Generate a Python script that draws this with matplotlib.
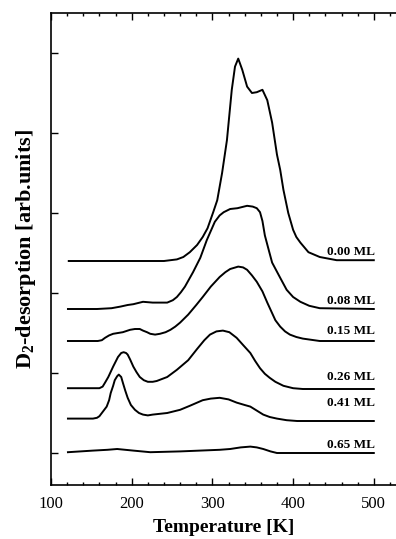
import matplotlib
matplotlib.use("Agg")
import matplotlib.pyplot as plt
from matplotlib.ticker import MultipleLocator

# coverages (monolayers), top curve first
coverages = ["0.00 ML", "0.08 ML", "0.15 ML", "0.26 ML", "0.41 ML", "0.65 ML"]

T_000 = [122, 240, 256, 264, 272, 281, 288, 294, 301, 306, 312, 318, 324, 328,
         332, 337, 343, 349, 355, 362, 368, 374, 380, 384, 388, 394, 400, 404,
         409, 419, 433, 454, 500]
S_000 = [2.80, 2.80, 2.82, 2.85, 2.91, 3.00, 3.10, 3.21, 3.41, 3.56, 3.90, 4.31,
         4.94, 5.23, 5.33, 5.19, 4.98, 4.90, 4.91, 4.94, 4.81, 4.53, 4.13, 3.94,
         3.69, 3.40, 3.19, 3.10, 3.03, 2.91, 2.85, 2.81, 2.81]

T_008 = [121, 157, 175, 186, 195, 202, 214, 226, 244, 251, 256, 261, 266, 276,
         285, 293, 303, 309, 314, 322, 331, 343, 350, 355, 359, 362, 365, 370,
         374, 384, 392, 400, 409, 420, 433, 500]
S_008 = [2.20, 2.20, 2.21, 2.23, 2.25, 2.26, 2.29, 2.28, 2.28, 2.31, 2.35, 2.41,
         2.48, 2.66, 2.84, 3.06, 3.29, 3.37, 3.41, 3.45, 3.46, 3.49, 3.48, 3.46,
         3.41, 3.30, 3.12, 2.93, 2.78, 2.59, 2.44, 2.35, 2.29, 2.24, 2.21, 2.20]

T_015 = [121, 158, 163, 167, 172, 177, 189, 198, 204, 210, 214, 219, 223, 229,
         235, 242, 248, 254, 260, 270, 280, 288, 298, 309, 316, 322, 332, 338,
         343, 349, 355, 362, 368, 378, 384, 390, 396, 404, 412, 433, 500]
S_015 = [1.80, 1.80, 1.81, 1.84, 1.87, 1.89, 1.91, 1.94, 1.95, 1.95, 1.93, 1.91,
         1.89, 1.88, 1.89, 1.91, 1.94, 1.98, 2.03, 2.13, 2.25, 2.35, 2.48, 2.60,
         2.66, 2.70, 2.73, 2.72, 2.69, 2.62, 2.54, 2.42, 2.28, 2.06, 1.98, 1.92,
         1.88, 1.85, 1.83, 1.80, 1.80]

T_026 = [121, 160, 164, 167, 171, 177, 183, 187, 190, 193, 195, 198, 202, 206,
         210, 215, 220, 226, 231, 244, 256, 270, 281, 290, 297, 305, 313, 321,
         330, 338, 347, 353, 359, 365, 371, 378, 388, 400, 412, 500]
S_026 = [1.21, 1.21, 1.23, 1.28, 1.35, 1.48, 1.60, 1.65, 1.66, 1.65, 1.63, 1.57,
         1.48, 1.41, 1.35, 1.31, 1.29, 1.29, 1.30, 1.35, 1.44, 1.56, 1.70, 1.81,
         1.88, 1.92, 1.93, 1.91, 1.84, 1.75, 1.65, 1.55, 1.46, 1.39, 1.34, 1.29,
         1.24, 1.21, 1.20, 1.20]

T_041 = [121, 152, 157, 160, 163, 166, 169, 172, 174, 177, 179, 182, 184, 187,
         189, 192, 195, 199, 204, 209, 214, 220, 226, 244, 260, 272, 288, 298,
         309, 320, 330, 340, 347, 355, 363, 371, 380, 392, 405, 500]
S_041 = [0.83, 0.83, 0.84, 0.86, 0.90, 0.94, 0.98, 1.06, 1.15, 1.24, 1.31, 1.36,
         1.38, 1.35, 1.28, 1.18, 1.09, 1.00, 0.94, 0.90, 0.88, 0.87, 0.88, 0.90,
         0.94, 0.99, 1.06, 1.08, 1.09, 1.07, 1.03, 1.00, 0.98, 0.93, 0.88, 0.85,
         0.83, 0.81, 0.80, 0.80]

T_065 = [121, 152, 170, 182, 192, 202, 223, 260, 309, 322, 335, 347, 355, 363,
         372, 380, 420, 500]
S_065 = [0.41, 0.43, 0.44, 0.45, 0.44, 0.43, 0.41, 0.42, 0.44, 0.45, 0.47, 0.48,
         0.47, 0.45, 0.42, 0.40, 0.40, 0.40]

temps = [T_000, T_008, T_015, T_026, T_041, T_065]
signals = [S_000, S_008, S_015, S_026, S_041, S_065]

# where the coverage labels sit (y of label centre)
label_y = [2.91, 2.30, 1.92, 1.35, 1.03, 0.50]

plt.rcParams["font.family"] = ["Liberation Serif", "DejaVu Serif"]
plt.rcParams["mathtext.fontset"] = "custom"
plt.rcParams["mathtext.rm"] = "Liberation Serif:bold"
plt.rcParams["mathtext.it"] = "Liberation Serif:bold"
plt.rcParams["mathtext.bf"] = "Liberation Serif:bold"

fig = plt.figure(figsize=(3.96, 5.39), dpi=100)
ax = fig.add_axes([51 / 396, 54 / 539, 345 / 396, 472 / 539])

for T, S in zip(temps, signals):
    ax.plot(T, S, color="black", lw=1.4, solid_joinstyle="round")

for lab, ly in zip(coverages, label_y):
    ax.text(502, ly, lab, ha="right", va="center", fontsize=9.5,
            fontweight="bold")

ax.set_xlim(100, 527.5)
ax.set_ylim(0, 5.9)
ax.xaxis.set_major_locator(MultipleLocator(100))
ax.xaxis.set_minor_locator(MultipleLocator(20))
ax.set_yticks([0.4 + k for k in range(6)])
ax.set_yticklabels([])
ax.tick_params(axis="x", which="both", direction="in", top=True, bottom=True,
               labelsize=12, pad=8, width=1.0)
ax.tick_params(axis="x", which="major", length=5)
ax.tick_params(axis="x", which="minor", length=2.5)
ax.tick_params(axis="y", which="both", direction="in", left=True, right=False,
               length=5, width=1.0)
ax.spines["right"].set_visible(False)
for sp in ["left", "top", "bottom"]:
    ax.spines[sp].set_linewidth(1.2)

ax.set_xlabel("Temperature [K]", fontsize=14, fontweight="bold", labelpad=5)
ax.set_ylabel("D$_2$-desorption [arb.units]", fontsize=16, fontweight="bold",
              labelpad=6)

fig.savefig("out.png", dpi=100)
